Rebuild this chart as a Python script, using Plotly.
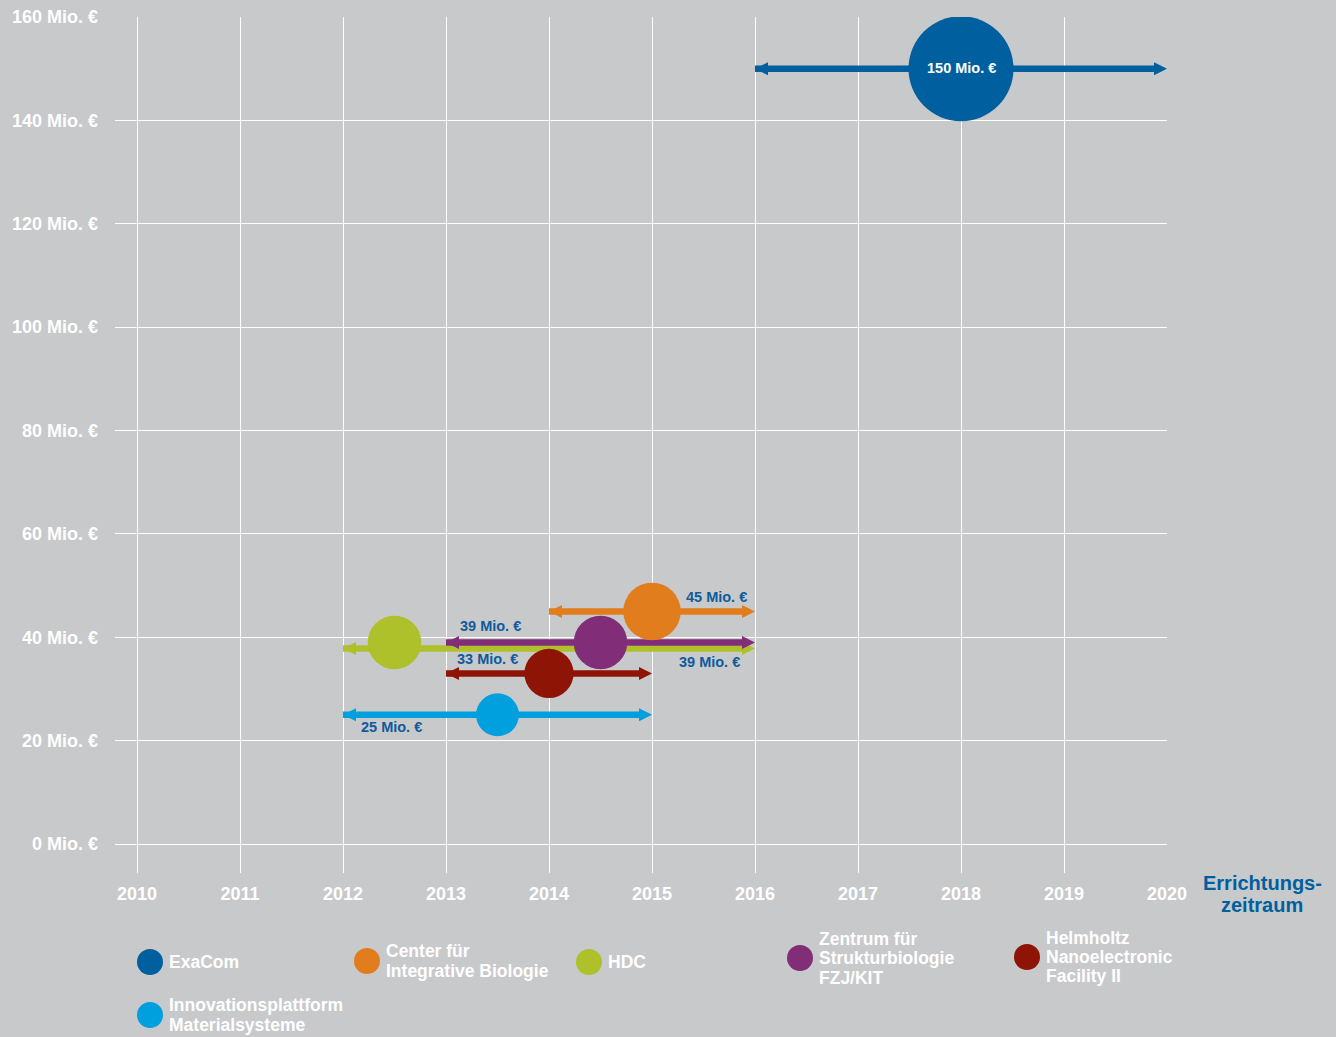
import plotly.graph_objects as go

# ---- data -------------------------------------------------------------
projects = ["ExaCom", "Center für Integrative Biologie", "HDC",
            "Zentrum für Strukturbiologie FZJ/KIT",
            "Helmholtz Nanoelectronic Facility II",
            "Innovationsplattform Materialsysteme"]
legend_lines = [["ExaCom"],
                ["Center für", "Integrative Biologie"],
                ["HDC"],
                ["Zentrum für", "Strukturbiologie", "FZJ/KIT"],
                ["Helmholtz", "Nanoelectronic", "Facility II"],
                ["Innovationsplattform", "Materialsysteme"]]
cost_mio = [150, 45, 39, 39, 33, 25]
mid_year = [2018, 2015, 2012.5, 2014.5, 2014, 2013.5]
start_year = [2016, 2014, 2012, 2013, 2013, 2012]
end_year = [2020, 2016, 2016, 2016, 2015, 2015]
year_ticks = list(range(2010, 2021))
cost_ticks = list(range(0, 161, 20))

# ---- styling ----------------------------------------------------------
colors = ["#005f9e", "#e27d1e", "#aec02a", "#812d78", "#8e1405", "#00a0de"]
BG = "#c8c9cb"
LABEL_BLUE = "#0f5b9b"
FONT = "Liberation Sans"
W, H = 1336, 1037
PL, PR, PT, PB = 115, 1167, 17, 873
MAX_DIAM = 105  # bubble diameter in px for the largest project

# vertical nudge of an arrow relative to its bubble (in Mio. €)
arrow_nudge = [0, 0, -1.2, 0, 0, 0]
# value label placement relative to the bubble centre (px)
label_shift = [(0, 1), (64, 14), (315, -20), (-110, 16), (-62, 14.5), (-106, -12)]
label_color = ["white", LABEL_BLUE, LABEL_BLUE, LABEL_BLUE, LABEL_BLUE, LABEL_BLUE]

fig = go.Figure()

# time span arrows
for i, name in enumerate(projects):
    y_arrow = cost_mio[i] + arrow_nudge[i]
    fig.add_trace(go.Scatter(
        x=[start_year[i], end_year[i]], y=[y_arrow, y_arrow],
        mode="lines+markers",
        line=dict(color=colors[i], width=6.5, backoff=7),
        marker=dict(symbol=["arrow-left", "arrow-right"], size=13,
                    color=colors[i], line=dict(width=0)),
        hoverinfo="skip", showlegend=False))

# cost bubbles (area proportional to cost)
sizeref = 2.0 * max(cost_mio) / MAX_DIAM ** 2
for i, name in enumerate(projects):
    fig.add_trace(go.Scatter(
        x=[mid_year[i]], y=[cost_mio[i]], mode="markers", name=name,
        marker=dict(size=[cost_mio[i]], sizemode="area", sizeref=sizeref,
                    color=colors[i], line=dict(width=0), opacity=1),
        showlegend=False))

# value labels
for i in range(len(projects)):
    fig.add_annotation(
        x=mid_year[i], y=cost_mio[i], xref="x", yref="y",
        text=f"{cost_mio[i]} Mio. €", showarrow=False,
        xshift=label_shift[i][0], yshift=label_shift[i][1],
        font=dict(family=FONT, size=14.5, color=label_color[i], weight="bold"))


def px_x(px):
    return (px - PL) / (PR - PL)


def px_y(py):
    return (PB - py) / (PB - PT)


# axis title at the right end of the time axis
for txt, py in [("Errichtungs-", 883), ("zeitraum", 905)]:
    fig.add_annotation(x=px_x(1262), y=px_y(py), xref="paper", yref="paper",
                       text=txt, showarrow=False, xanchor="center", yanchor="middle",
                       font=dict(family=FONT, size=20, color="#005f9e", weight="bold"))

# legend: circle + (multi-line) name
legend_pos = [(150, 962), (367, 961), (589, 962), (800, 958), (1027, 957), (150, 1015)]
LINE_H = 19.5
for i, lines in enumerate(legend_lines):
    cx, cy = legend_pos[i]
    fig.add_shape(type="circle", xref="paper", yref="paper",
                  xsizemode="pixel", ysizemode="pixel",
                  xanchor=px_x(cx), yanchor=px_y(cy),
                  x0=-13, x1=13, y0=-13, y1=13,
                  fillcolor=colors[i], line=dict(width=0))
    n = len(lines)
    for k, txt in enumerate(lines):
        ly = cy + (k - (n - 1) / 2) * LINE_H
        fig.add_annotation(x=px_x(cx + 18), y=px_y(ly), xref="paper", yref="paper",
                           text=txt, showarrow=False, xanchor="left", yanchor="middle",
                           borderpad=0,
                           font=dict(family=FONT, size=17.5, color="white", weight="bold"))

x_pad = (137 - PL) / 103.0
y_pad = (PB - 844) / (827 / 160)

fig.update_layout(
    template="none",
    width=W, height=H,
    margin=dict(l=PL, r=W - PR, t=PT, b=H - PB, autoexpand=False),
    paper_bgcolor=BG, plot_bgcolor=BG,
    showlegend=False,
    font=dict(family=FONT, color="white"),
    xaxis=dict(range=[year_ticks[0] - x_pad, year_ticks[-1]],
               tickvals=year_ticks, ticktext=[str(y) for y in year_ticks],
               showgrid=True, gridcolor="white", gridwidth=1.3,
               zeroline=False, showline=False, ticks="", automargin=False,
               ticklabelstandoff=8,
               tickfont=dict(family=FONT, size=18, color="white", weight="bold")),
    yaxis=dict(range=[-y_pad, cost_ticks[-1]],
               tickvals=cost_ticks, ticktext=[f"{v} Mio. €" for v in cost_ticks],
               showgrid=True, gridcolor="white", gridwidth=1.3,
               zeroline=False, showline=False, ticks="", automargin=False,
               ticklabelstandoff=16,
               tickfont=dict(family=FONT, size=18, color="white", weight="bold")),
)

fig.write_html("out.html")
